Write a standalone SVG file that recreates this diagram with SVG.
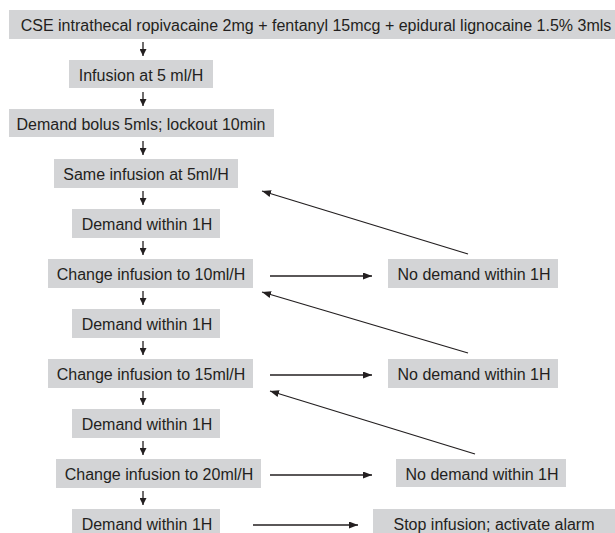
<svg xmlns="http://www.w3.org/2000/svg" width="615" height="533" viewBox="0 0 615 533">
<style>
.box{fill:#d3d4d6}
.t{font-family:"Liberation Sans",Arial,Helvetica,sans-serif;font-size:16px;fill:#231f20;text-anchor:middle}
.c{stroke:#231f20;stroke-width:1.3;fill:none}
</style>
<defs>
<marker id="ah" markerUnits="userSpaceOnUse" markerWidth="9" markerHeight="7" refX="9" refY="3.5" orient="auto">
<path d="M0,0 L9,3.5 L0,7 Z" fill="#231f20"/>
</marker>
<marker id="av" markerUnits="userSpaceOnUse" markerWidth="7" markerHeight="7" refX="7" refY="3.5" orient="auto">
<path d="M0,0 L7,3.5 L0,7 Z" fill="#231f20"/>
</marker>
</defs>
<rect width="615" height="533" fill="#ffffff"/>
<g id="n1"><rect class="box" x="9" y="10" width="606" height="29"/><text class="t" x="316" y="31">CSE intrathecal ropivacaine 2mg + fentanyl 15mcg + epidural lignocaine 1.5% 3mls</text></g>
<g id="n2"><rect class="box" x="69" y="60" width="144" height="28"/><text class="t" x="141" y="81">Infusion at 5 ml/H</text></g>
<g id="n3"><rect class="box" x="9" y="109" width="265" height="28"/><text class="t" x="141" y="130">Demand bolus 5mls; lockout 10min</text></g>
<g id="n4"><rect class="box" x="54" y="159" width="184" height="29"/><text class="t" x="146" y="180">Same infusion at 5ml/H</text></g>
<g id="n5"><rect class="box" x="72" y="209" width="148" height="29"/><text class="t" x="147" y="230">Demand within 1H</text></g>
<g id="n6"><rect class="box" x="48" y="259" width="205" height="29"/><text class="t" x="151" y="280">Change infusion to 10ml/H</text></g>
<g id="n6r"><rect class="box" x="388" y="259" width="170" height="29"/><text class="t" x="474" y="280">No demand within 1H</text></g>
<g id="n7"><rect class="box" x="72" y="309" width="148" height="29"/><text class="t" x="147" y="330">Demand within 1H</text></g>
<g id="n8"><rect class="box" x="48" y="359" width="205" height="29"/><text class="t" x="151" y="380">Change infusion to 15ml/H</text></g>
<g id="n8r"><rect class="box" x="388" y="359" width="170" height="29"/><text class="t" x="474" y="380">No demand within 1H</text></g>
<g id="n9"><rect class="box" x="72" y="409" width="148" height="29"/><text class="t" x="147" y="430">Demand within 1H</text></g>
<g id="n10"><rect class="box" x="56" y="459" width="205" height="29"/><text class="t" x="159" y="480">Change infusion to 20ml/H</text></g>
<g id="n10r"><rect class="box" x="396" y="459" width="170" height="28"/><text class="t" x="482" y="480">No demand within 1H</text></g>
<g id="n11"><rect class="box" x="72" y="509" width="148" height="24"/><text class="t" x="147" y="530">Demand within 1H</text></g>
<g id="n11r"><rect class="box" x="373" y="509" width="242" height="24"/><text class="t" x="494" y="530">Stop infusion; activate alarm</text></g>
<g id="connectors">
<line class="c" x1="143" y1="42" x2="143" y2="56" marker-end="url(#av)"/>
<line class="c" x1="143" y1="92" x2="143" y2="106" marker-end="url(#av)"/>
<line class="c" x1="143" y1="141" x2="143" y2="155" marker-end="url(#av)"/>
<line class="c" x1="143" y1="191" x2="143" y2="205" marker-end="url(#av)"/>
<line class="c" x1="143" y1="241" x2="143" y2="255" marker-end="url(#av)"/>
<line class="c" x1="143" y1="291" x2="143" y2="305" marker-end="url(#av)"/>
<line class="c" x1="143" y1="341" x2="143" y2="355" marker-end="url(#av)"/>
<line class="c" x1="143" y1="391" x2="143" y2="405" marker-end="url(#av)"/>
<line class="c" x1="143" y1="441" x2="143" y2="455" marker-end="url(#av)"/>
<line class="c" x1="143" y1="491" x2="143" y2="505" marker-end="url(#av)"/>
<line class="c" x1="270" y1="276" x2="372" y2="276" marker-end="url(#ah)"/>
<line class="c" x1="270" y1="375" x2="372" y2="375" marker-end="url(#ah)"/>
<line class="c" x1="270" y1="475" x2="372" y2="475" marker-end="url(#ah)"/>
<line class="c" x1="253" y1="525" x2="358" y2="525" marker-end="url(#ah)"/>
<line class="c" x1="468" y1="254" x2="262" y2="191" marker-end="url(#ah)"/>
<line class="c" x1="468" y1="353" x2="262" y2="292" marker-end="url(#ah)"/>
<line class="c" x1="475" y1="454" x2="270" y2="391" marker-end="url(#ah)"/>
</g>
</svg>
